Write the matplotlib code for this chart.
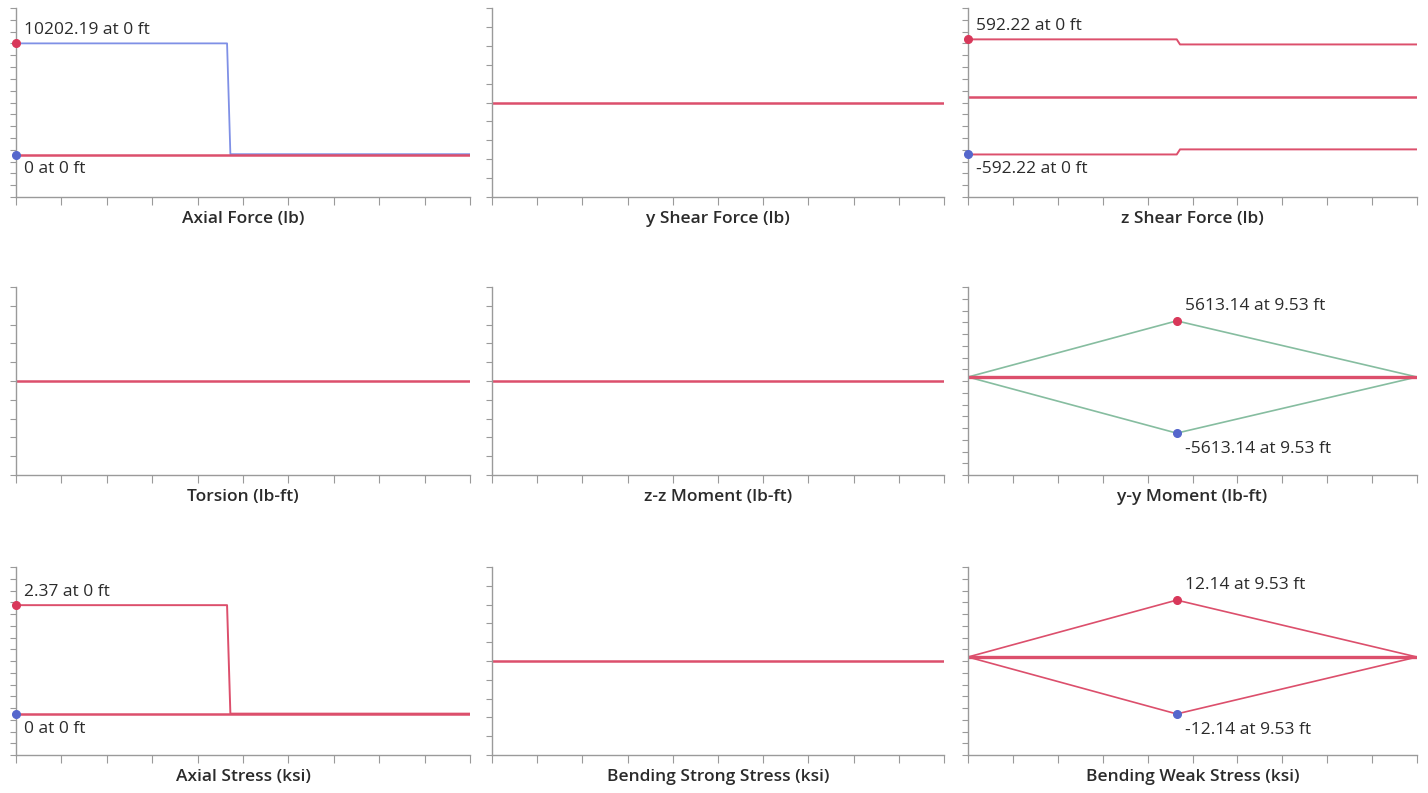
import numpy as np
import matplotlib
matplotlib.use('Agg')
import matplotlib.pyplot as plt

plt.rcParams['font.family'] = ['Open Sans', 'DejaVu Sans']

L = 20.5          # member length (ft)
xs = 9.53         # location of step / peak (ft)

# x stations
x_step = [0, xs, xs + 0.15, L]
x_tri = [0, xs, L]
x_flat = [0, L]

# axial force (lb)
axial_max = [10202.19, 10202.19, 30, 30]
axial_min = [0, 0, 0, 0]
# z shear (lb)
zshear_max = [592.22, 592.22, 540, 540]
zshear_min = [-592.22, -592.22, -540, -540]
# y-y moment (lb-ft)
yy_max = [0, 5613.14, 0]
yy_min = [0, -5613.14, 0]
# axial stress (ksi)
astress_max = [2.37, 2.37, 0.01, 0.01]
astress_min = [0, 0, 0, 0]
# bending weak stress (ksi)
bw_max = [0, 12.14, 0]
bw_min = [0, -12.14, 0]
zero = [0, 0]

titles = ['Axial Force (lb)', 'y Shear Force (lb)', 'z Shear Force (lb)',
          'Torsion (lb-ft)', 'z-z Moment (lb-ft)', 'y-y Moment (lb-ft)',
          'Axial Stress (ksi)', 'Bending Strong Stress (ksi)', 'Bending Weak Stress (ksi)']

RED = '#dc4f6c'
BLUE = '#7f90e6'
GREEN = '#86bda0'
DOT_RED = '#d8385a'
DOT_BLUE = '#5567cc'
TXT = '#2b2b2b'

fig = plt.figure(figsize=(14.28, 7.93), dpi=100)
lefts = [16, 492, 968]
rights = [470, 944, 1417]
tops = [8, 287, 567]
bots = [197, 475, 755]
W, H = 1428.0, 793.0

axes = []
for r in range(3):
    for c in range(3):
        ax = fig.add_axes([lefts[c] / W, 1 - bots[r] / H,
                           (rights[c] - lefts[c]) / W, (bots[r] - tops[r]) / H])
        axes.append(ax)

ylims = [(-3900, 13450), (-1, 1), (-1030, 915),
         (-1, 1), (-1, 1), (-9800, 9000),
         (-0.89, 3.2), (-1, 1), (-20.9, 19.2)]
nticks = [16, 10, 16, 10, 10, 16, 16, 10, 16]

for i, ax in enumerate(axes):
    ax.set_xlim(0, L)
    ax.set_ylim(*ylims[i])
    for s in ['top', 'right']:
        ax.spines[s].set_visible(False)
    for s in ['left', 'bottom']:
        ax.spines[s].set_color('#9a9a9a')
        ax.spines[s].set_linewidth(1.0)
    ax.set_xticks(np.linspace(0, L, 11))
    ax.set_yticks(np.linspace(ylims[i][0], ylims[i][1], nticks[i] + 1))
    ax.tick_params(axis='x', length=6, color='#9a9a9a', labelbottom=False)
    ax.tick_params(axis='y', length=4, color='#9a9a9a', labelleft=False)
    ax.set_xlabel(titles[i], fontsize=12.5, color=TXT, fontweight='semibold', labelpad=4)
    ax.patch.set_alpha(0)


def mark(ax, x, y, color, text, dx, dy, va):
    ax.plot([x], [y], 'o', color=color, ms=5.5, clip_on=False, zorder=5)
    ax.annotate(text, (x, y), xytext=(dx, dy), textcoords='offset points',
                fontsize=12.5, color=TXT, va=va, ha='left')


# Axial force
ax = axes[0]
ax.plot(x_step, axial_max, color=BLUE, lw=1.3)
ax.plot(x_step, axial_min, color=RED, lw=1.8)
mark(ax, 0, axial_max[0], DOT_RED, '10202.19 at 0 ft', 6, 4, 'bottom')
mark(ax, 0, axial_min[0], DOT_BLUE, '0 at 0 ft', 6, -5, 'top')

# y shear
axes[1].plot(x_flat, zero, color=RED, lw=1.8)

# z shear
ax = axes[2]
ax.plot(x_step, zshear_max, color=RED, lw=1.4)
ax.plot(x_step, zshear_min, color=RED, lw=1.4)
ax.plot(x_flat, zero, color=RED, lw=1.8)
mark(ax, 0, zshear_max[0], DOT_RED, '592.22 at 0 ft', 6, 4, 'bottom')
mark(ax, 0, zshear_min[0], DOT_BLUE, '-592.22 at 0 ft', 6, -5, 'top')

# torsion, z-z moment
axes[3].plot(x_flat, zero, color=RED, lw=1.8)
axes[4].plot(x_flat, zero, color=RED, lw=1.8)

# y-y moment
ax = axes[5]
ax.plot(x_tri, yy_max, color=GREEN, lw=1.2)
ax.plot(x_tri, yy_min, color=GREEN, lw=1.2)
ax.plot(x_flat, zero, color=RED, lw=2.4)
mark(ax, xs, yy_max[1], DOT_RED, '5613.14 at 9.53 ft', 6, 5, 'bottom')
mark(ax, xs, yy_min[1], DOT_BLUE, '-5613.14 at 9.53 ft', 6, -6, 'top')

# axial stress
ax = axes[6]
ax.plot(x_step, astress_max, color=RED, lw=1.4)
ax.plot(x_step, astress_min, color=RED, lw=1.8)
mark(ax, 0, astress_max[0], DOT_RED, '2.37 at 0 ft', 6, 4, 'bottom')
mark(ax, 0, astress_min[0], DOT_BLUE, '0 at 0 ft', 6, -5, 'top')

# bending strong
axes[7].plot(x_flat, zero, color=RED, lw=1.8)

# bending weak
ax = axes[8]
ax.plot(x_tri, bw_max, color=RED, lw=1.2)
ax.plot(x_tri, bw_min, color=RED, lw=1.2)
ax.plot(x_flat, zero, color=RED, lw=2.4)
mark(ax, xs, bw_max[1], DOT_RED, '12.14 at 9.53 ft', 6, 5, 'bottom')
mark(ax, xs, bw_min[1], DOT_BLUE, '-12.14 at 9.53 ft', 6, -6, 'top')

fig.savefig('out.png', dpi=100, facecolor='white')
